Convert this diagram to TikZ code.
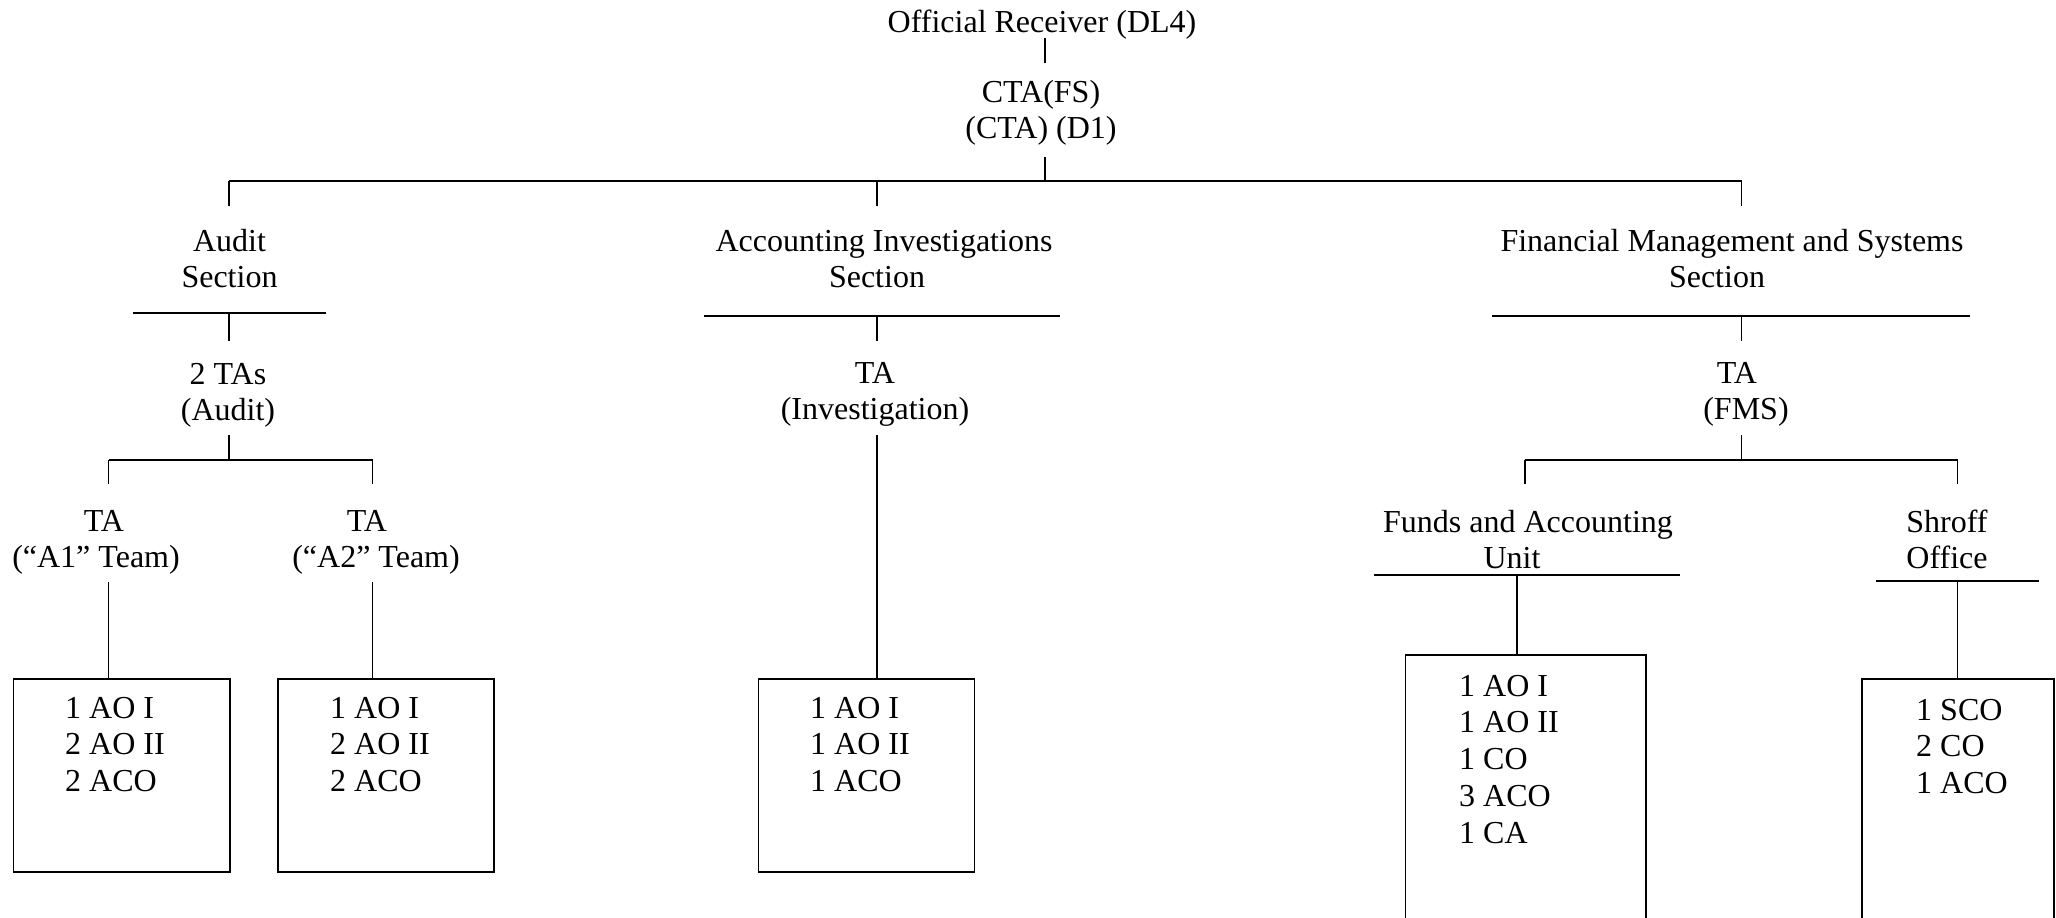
\documentclass[tikz,border=0pt]{standalone}
\usepackage{fontspec}
\setmainfont{Liberation Serif}
\newcommand{\mlc}[1]{\begin{tabular}[t]{@{}c@{}}#1\end{tabular}}
\newcommand{\mll}[1]{\begin{tabular}[t]{@{}l@{}}#1\end{tabular}}
\newcommand{\pad}[1]{\rule{#1}{0pt}}
\begin{document}
\begin{tikzpicture}[x=1pt,y=-1pt,
  txt/.style={anchor=base,inner sep=0pt,font=\fontsize{32}{36.5}\selectfont},
  txtl/.style={anchor=base west,inner sep=0pt,font=\fontsize{32}{36.8}\selectfont},
  ln/.style={line width=1.3pt},
  barst/.style={line width=2.2pt},
  boxst/.style={draw,line width=1.6pt,inner sep=0pt,anchor=north west,minimum height=193pt}]
\useasboundingbox (0,0) rectangle (2056,918);
\fill[white] (0,0) rectangle (2056,918);
% text nodes
\node[txt] (or) at (1042,32) {Official Receiver (DL4)};
\node[txt] (cta) at (1041,102) {\mlc{CTA(FS)\\(CTA) (D1)}};
\node[txt] (aud) at (229.5,251) {\mlc{Audit\\Section}};
\node[txt] (aci) at (884,251) {\mlc{Accounting Investigations\\Section\pad{14pt}}};
\node[txt] (fms) at (1732,251) {\mlc{Financial Management and Systems\\Section\pad{30pt}}};
\node[txt] (tas) at (228,384) {\mlc{2 TAs\\(Audit)}};
\node[txt] (tai) at (875,383) {\mlc{TA\\(Investigation)}};
\node[txt] (taf) at (1746,383) {\mlc{TA\pad{18pt}\\(FMS)}};
\node[txt] (ta1) at (96,531) {\mlc{\pad{16pt}TA\\(``A1'' Team)}};
\node[txt] (ta2) at (376,531) {\mlc{TA\pad{18pt}\\(``A2'' Team)}};
\node[txt] (fau) at (1528,532) {\mlc{Funds and Accounting\\Unit\pad{32pt}}};
\node[txt] (sho) at (1947,532) {\mlc{Shroff\\Office}};
% boxes
\node[boxst,minimum width=216.8pt] (b1) at (12.6,678) {};
\node[boxst,minimum width=216pt] (b2) at (277,678) {};
\node[boxst,minimum width=216pt] (b3) at (757.6,678) {};
\coordinate (b4l) at (1405.4,655);
\coordinate (b4r) at (1646,655);
\coordinate (b4lb) at (1405.4,918);
\coordinate (b4rb) at (1646,918);
\draw[line width=1.6pt] (b4lb) -- (b4l) -- (b4r) -- (b4rb);
\coordinate (b5l) at (1862,679);
\coordinate (b5r) at (2054,679);
\coordinate (b5lb) at (1862,918);
\coordinate (b5rb) at (2054,918);
\draw[line width=1.6pt] (b5lb) -- (b5l) -- (b5r) -- (b5rb);
% box contents
\node[txtl] (t1) at (65,718) {\mll{1 AO I\\2 AO II\\2 ACO}};
\node[txtl] (t2) at (330,718) {\mll{1 AO I\\2 AO II\\2 ACO}};
\node[txtl] (t3) at (810,718) {\mll{1 AO I\\1 AO II\\1 ACO}};
\node[txtl] (t4) at (1459,696) {\mll{1 AO I\\1 AO II\\1 CO\\3 ACO\\1 CA}};
\node[txtl] (t5) at (1916,720) {\mll{1 SCO\\2 CO\\1 ACO}};
% junction coordinates
\coordinate (orS) at (1045,38);
\coordinate (ctaN) at (1045,63);
\coordinate (ctaS) at (1045,157);
\coordinate (j0) at (1045,181);
\coordinate (jA) at (229,181);
\coordinate (jI) at (877,181);
\coordinate (jF) at (1741.5,181);
\coordinate (audN) at (229,206);
\coordinate (aciN) at (877,206);
\coordinate (fmsN) at (1741.5,206);
\coordinate (audUl) at (132.6,313);
\coordinate (audUr) at (326,313);
\coordinate (audU) at (229,313);
\coordinate (aciUl) at (703.6,316);
\coordinate (aciUr) at (1060,316);
\coordinate (aciU) at (877,316);
\coordinate (fmsUl) at (1491.6,316);
\coordinate (fmsUr) at (1970,316);
\coordinate (fmsU) at (1741.5,316);
\coordinate (tasN) at (229,341);
\coordinate (taiN) at (877,341);
\coordinate (tafN) at (1741.5,341);
\coordinate (tasS) at (229,435);
\coordinate (taiS) at (877,435);
\coordinate (tafS) at (1741.5,435);
\coordinate (jT) at (229,460);
\coordinate (jT1) at (108.7,460);
\coordinate (jT2) at (372.5,460);
\coordinate (ta1N) at (108.7,484);
\coordinate (ta2N) at (372.5,484);
\coordinate (ta1S) at (108.7,582);
\coordinate (ta2S) at (372.5,582);
\coordinate (b1N) at (108.7,678);
\coordinate (b2N) at (372.5,678);
\coordinate (b3N) at (877,678);
\coordinate (jFf) at (1741.5,460);
\coordinate (jF1) at (1525,460);
\coordinate (jF2) at (1957.7,460);
\coordinate (fauN) at (1525,484);
\coordinate (shoN) at (1957.7,484);
\coordinate (fauUl) at (1373.8,575);
\coordinate (fauUr) at (1680,575);
\coordinate (fauU) at (1517,575);
\coordinate (shoUl) at (1875.5,581);
\coordinate (shoUr) at (2039,581);
\coordinate (shoU) at (1957.7,581);
\coordinate (b4N) at (1517,655);
\coordinate (b5N) at (1957.7,679);
% connectors
\draw[ln] (orS) -- (ctaN);
\draw[ln] (ctaS) -- (j0);
\draw[barst] (jA) -- (jF);
\draw[ln] (jA) -- (audN);
\draw[ln] (jI) -- (aciN);
\draw[ln] (jF) -- (fmsN);
\draw[barst] (audUl) -- (audUr);
\draw[barst] (aciUl) -- (aciUr);
\draw[barst] (fmsUl) -- (fmsUr);
\draw[ln] (audU) -- (tasN);
\draw[ln] (aciU) -- (taiN);
\draw[ln] (fmsU) -- (tafN);
\draw[ln] (tasS) -- (jT);
\draw[barst] (jT1) -- (jT2);
\draw[ln] (jT1) -- (ta1N);
\draw[ln] (jT2) -- (ta2N);
\draw[ln] (ta1S) -- (b1N);
\draw[ln] (ta2S) -- (b2N);
\draw[ln] (taiS) -- (b3N);
\draw[ln] (tafS) -- (jFf);
\draw[barst] (jF1) -- (jF2);
\draw[ln] (jF1) -- (fauN);
\draw[ln] (jF2) -- (shoN);
\draw[barst] (fauUl) -- (fauUr);
\draw[barst] (shoUl) -- (shoUr);
\draw[ln] (fauU) -- (b4N);
\draw[ln] (shoU) -- (b5N);
\end{tikzpicture}
\end{document}
